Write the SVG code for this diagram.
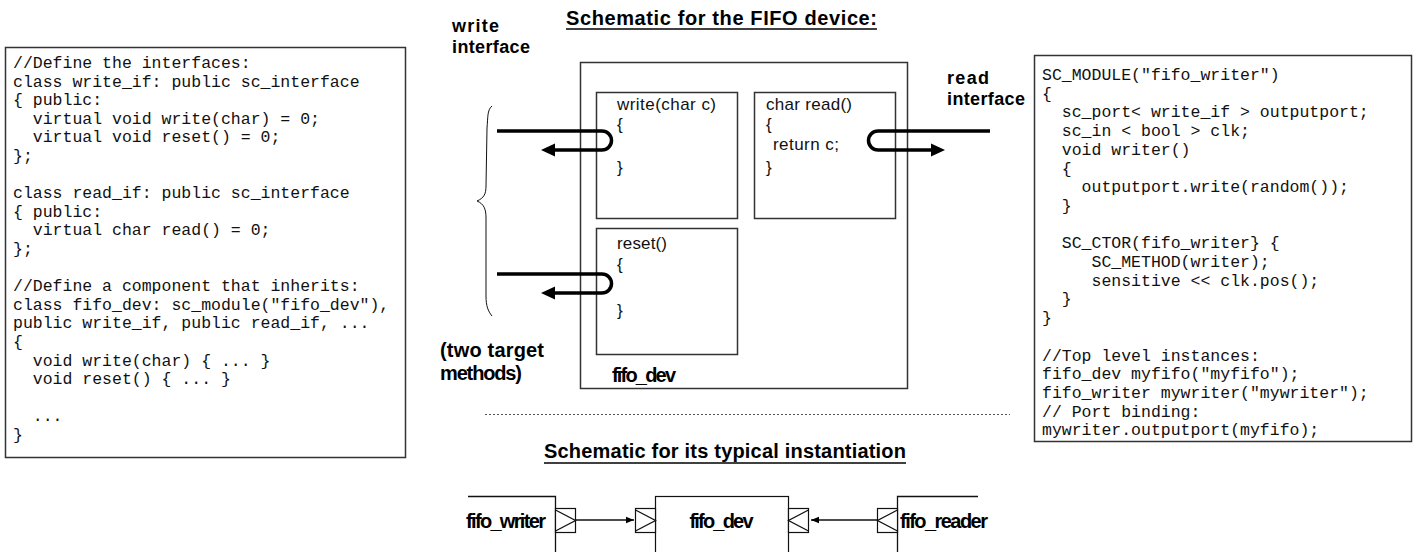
<svg xmlns="http://www.w3.org/2000/svg" width="1419" height="552" viewBox="0 0 1419 552">
<style>
.code{font-family:"Liberation Mono","DejaVu Sans Mono",monospace;font-size:16.5px;fill:#111;white-space:pre}
.lbl{font-family:"Liberation Sans",Arial,sans-serif;font-weight:bold;font-size:20px;fill:#000}
.lbl2{font-family:"Liberation Sans",Arial,sans-serif;font-weight:bold;font-size:18px;fill:#000}
.fn{font-family:"Liberation Sans",Arial,sans-serif;font-size:17px;fill:#111}
.box{fill:#fff;stroke:#333;stroke-width:1.5}
.thin{fill:none;stroke:#111;stroke-width:1}
.thick{fill:none;stroke:#000;stroke-width:3.5}
.port{fill:#fff;stroke:#111;stroke-width:1.2}
.conn{fill:none;stroke:#111;stroke-width:1.3}
</style>
<defs>
<marker id="ah" viewBox="0 0 10 10" refX="10" refY="5" markerWidth="8" markerHeight="8" markerUnits="userSpaceOnUse" orient="auto">
<path d="M0,1 L10,5 L0,9 z" fill="#000"/>
</marker>
</defs>
<rect width="1419" height="552" fill="#fff"/>

<g id="code-left">
<rect class="box" x="5.5" y="47.5" width="400" height="410"/>
<text class="code" x="13" y="68">//Define the interfaces:</text>
<text class="code" x="13" y="86.6">class write_if: public sc_interface</text>
<text class="code" x="13" y="105.2">{ public:</text>
<text class="code" x="13" y="123.8">  virtual void write(char) = 0;</text>
<text class="code" x="13" y="142.4">  virtual void reset() = 0;</text>
<text class="code" x="13" y="161">};</text>
<text class="code" x="13" y="198.2">class read_if: public sc_interface</text>
<text class="code" x="13" y="216.8">{ public:</text>
<text class="code" x="13" y="235.4">  virtual char read() = 0;</text>
<text class="code" x="13" y="254">};</text>
<text class="code" x="13" y="291.2">//Define a component that inherits:</text>
<text class="code" x="13" y="309.8">class fifo_dev: sc_module("fifo_dev"),</text>
<text class="code" x="13" y="328.4">public write_if, public read_if, ...</text>
<text class="code" x="13" y="347">{</text>
<text class="code" x="13" y="365.6">  void write(char) { ... }</text>
<text class="code" x="13" y="384.2">  void reset() { ... }</text>
<text class="code" x="13" y="421.4">  ...</text>
<text class="code" x="13" y="440">}</text>
</g>

<g id="code-right">
<rect class="box" x="1034.5" y="55.5" width="377" height="386"/>
<text class="code" x="1042" y="80">SC_MODULE("fifo_writer")</text>
<text class="code" x="1042" y="98.7">{</text>
<text class="code" x="1042" y="117.4">  sc_port&lt; write_if &gt; outputport;</text>
<text class="code" x="1042" y="136.1">  sc_in &lt; bool &gt; clk;</text>
<text class="code" x="1042" y="154.8">  void writer()</text>
<text class="code" x="1042" y="173.5">  {</text>
<text class="code" x="1042" y="192.2">    outputport.write(random());</text>
<text class="code" x="1042" y="210.9">  }</text>
<text class="code" x="1042" y="248.3">  SC_CTOR(fifo_writer} {</text>
<text class="code" x="1042" y="267">     SC_METHOD(writer);</text>
<text class="code" x="1042" y="285.7">     sensitive &lt;&lt; clk.pos();</text>
<text class="code" x="1042" y="304.4">  }</text>
<text class="code" x="1042" y="323.1">}</text>
<text class="code" x="1042" y="360.5">//Top level instances:</text>
<text class="code" x="1042" y="379.2">fifo_dev myfifo("myfifo");</text>
<text class="code" x="1042" y="397.9">fifo_writer mywriter("mywriter");</text>
<text class="code" x="1042" y="416.6">// Port binding:</text>
<text class="code" x="1042" y="435.3">mywriter.outputport(myfifo);</text>
</g>

<g id="title-fifo">
<text class="lbl" x="721.5" y="25" text-anchor="middle" textLength="311">Schematic for the FIFO device:</text>
<line x1="566" y1="29" x2="877" y2="29" stroke="#000" stroke-width="1.5"/>
</g>

<g id="fifo_dev">
<rect class="box" x="580.5" y="62.5" width="327" height="326" fill="none"/>
<text class="lbl" x="612" y="382" textLength="64">fifo_dev</text>
</g>

<g id="method-write">
<rect class="box" x="596.5" y="92.5" width="141" height="126"/>
<text class="fn" x="617" y="110" textLength="99">write(char c)</text>
<text class="fn" x="617" y="130">{</text>
<text class="fn" x="617" y="173">}</text>
</g>

<g id="method-read">
<rect class="box" x="754.5" y="92.5" width="141" height="126"/>
<text class="fn" x="766" y="110" textLength="86">char read()</text>
<text class="fn" x="766" y="130">{</text>
<text class="fn" x="773" y="150" textLength="66">return c;</text>
<text class="fn" x="766" y="173">}</text>
</g>

<g id="method-reset">
<rect class="box" x="596.5" y="228.5" width="141" height="126"/>
<text class="fn" x="617" y="249" textLength="50">reset()</text>
<text class="fn" x="617" y="270">{</text>
<text class="fn" x="617" y="316">}</text>
</g>

<g id="write-interface-label">
<text class="lbl2" x="452" y="32" textLength="47">write</text>
<text class="lbl2" x="452" y="53" textLength="78">interface</text>
<path class="thin" d="M492,106 C487,110 488,118 487,128 L486,186 C486,194 484,198 477,201 C484,204 486,209 486,218 L486,296 C486,306 488,311 492,316"/>
</g>

<g id="read-interface-label">
<text class="lbl2" x="947" y="84" textLength="42">read</text>
<text class="lbl2" x="947" y="105" textLength="78">interface</text>
</g>

<g id="two-target-label">
<text class="lbl" x="440" y="357" textLength="104">(two target</text>
<text class="lbl" x="440" y="380" textLength="82">methods)</text>
</g>

<g id="connectors">
<path class="thick" d="M497,131 H602 A9.5,9.5 0 0 1 602,150 H552"/>
<path d="M541,150 L555,143.5 L555,156.5 z" fill="#000"/>
<path class="thick" d="M990,131 H878 A9.5,9.5 0 0 0 878,150 H933"/>
<path d="M945,150 L931,143.5 L931,156.5 z" fill="#000"/>
<path class="thick" d="M497,274 H602 A9.5,9.5 0 0 1 602,293 H552"/>
<path d="M541,293 L555,286.5 L555,299.5 z" fill="#000"/>
<line class="conn" x1="575" y1="520" x2="634" y2="520" marker-end="url(#ah)"/>
<line class="conn" x1="878" y1="520" x2="811" y2="520" marker-end="url(#ah)"/>
</g>

<g id="separator">
<line x1="485" y1="414.5" x2="1010" y2="414.5" stroke="#555" stroke-width="1" stroke-dasharray="2,2"/>
</g>

<g id="title-inst">
<text class="lbl" x="725" y="458" text-anchor="middle" textLength="362">Schematic for its typical instantiation</text>
<line x1="544" y1="463" x2="906" y2="463" stroke="#000" stroke-width="1.5"/>
</g>

<g id="fifo_writer">
<path class="conn" d="M468,496.5 H555.5 V560"/>
<text class="lbl" x="466" y="528" textLength="80">fifo_writer</text>
<rect class="port" x="555.5" y="508.5" width="20" height="24"/>
<path class="conn" d="M555.5,510 L575.5,520.5 L555.5,531"/>
</g>

<g id="fifo_dev_inst">
<rect class="port" x="655.5" y="496.5" width="133" height="70" fill="#fff"/>
<text class="lbl" x="721.5" y="528" text-anchor="middle" textLength="64">fifo_dev</text>
<rect class="port" x="635.5" y="508.5" width="20" height="24"/>
<path class="conn" d="M635.5,510 L655.5,520.5 L635.5,531"/>
<rect class="port" x="788.5" y="508.5" width="20" height="24"/>
<path class="conn" d="M808.5,510 L788.5,520.5 L808.5,531"/>
</g>

<g id="fifo_reader">
<path class="conn" d="M978,496.5 H897.5 V560"/>
<text class="lbl" x="900" y="528" textLength="88">fifo_reader</text>
<rect class="port" x="877.5" y="508.5" width="20" height="24"/>
<path class="conn" d="M897.5,510 L877.5,520.5 L897.5,531"/>
</g>
</svg>
